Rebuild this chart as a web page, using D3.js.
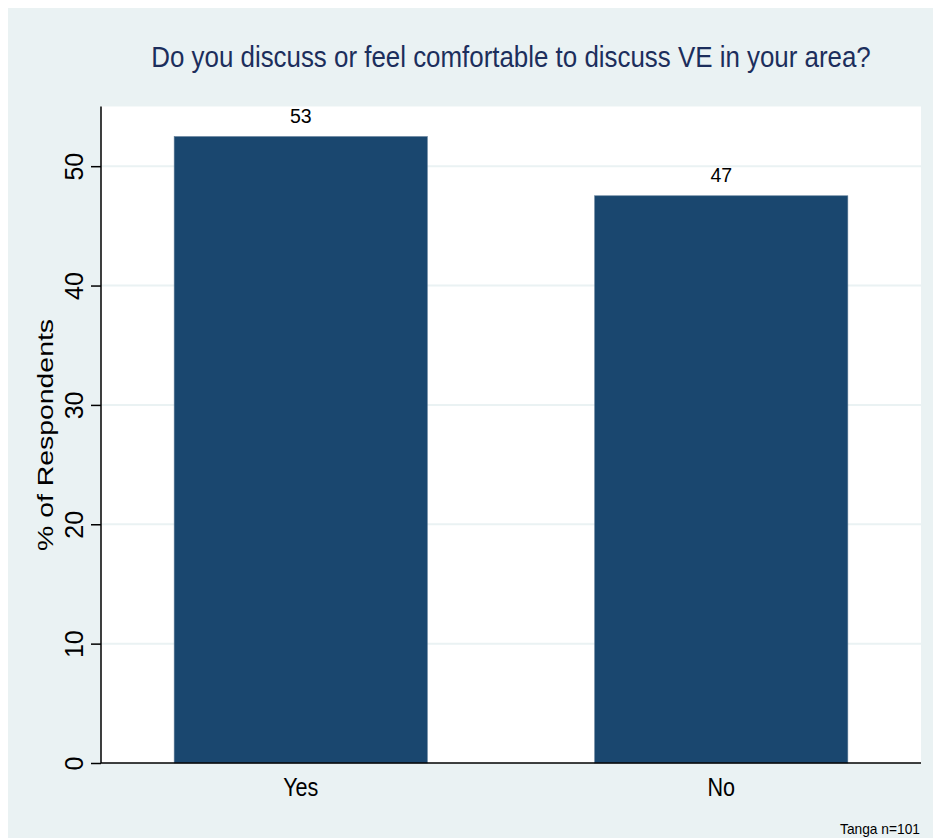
<!DOCTYPE html>
<html>
<head>
<meta charset="utf-8">
<script src="https://cdn.jsdelivr.net/npm/d3@7"></script>
<style>
  body { margin: 0; background: #fff; }
  text { font-family: "Liberation Sans", Arial, sans-serif; }
</style>
</head>
<body>
<svg id="chart"></svg>
<script>
// data
const categories = ['Yes', 'No'];
const percents = [52.48, 47.52];
const barLabels = ['53', '47'];
const yTicks = [0, 10, 20, 30, 40, 50];

const width = 933, height = 838;
const margin = {top: 106.5, right: 12, bottom: 75, left: 101};

// squeeze text horizontally to mimic the narrow Stata font
function squeeze(sel, factor) {
  sel.each(function() {
    const len = this.getComputedTextLength();
    d3.select(this)
        .attr('textLength', len * factor)
        .attr('lengthAdjust', 'spacingAndGlyphs');
  });
}

const svg = d3.select('#chart')
    .attr('width', width)
    .attr('height', height);

// outer background
svg.append('rect')
    .attr('x', 8).attr('y', 8)
    .attr('width', width - 8).attr('height', height - 8)
    .attr('fill', '#eaf2f3');

const plotW = width - margin.left - margin.right;
const plotH = height - margin.top - margin.bottom;

const chart = svg.append('g')
    .attr('transform', `translate(${margin.left},${margin.top})`);

chart.append('rect')
    .attr('width', plotW).attr('height', plotH)
    .attr('fill', '#fff');

const xScale = d3.scaleBand()
    .domain(categories)
    .range([0, plotW])
    .paddingInner(0.398)
    .paddingOuter(0.174);

const yScale = d3.scaleLinear()
    .domain([0, 55])
    .range([plotH, 0]);

// gridlines
chart.selectAll('.grid')
    .data(yTicks.filter(d => d > 0))
    .join('line')
    .attr('class', 'grid')
    .attr('x1', 0).attr('x2', plotW)
    .attr('y1', d => yScale(d)).attr('y2', d => yScale(d))
    .attr('stroke', '#eaf2f3')
    .attr('stroke-width', 2);

// bars
chart.selectAll('.bar')
    .data(percents)
    .join('rect')
    .attr('class', 'bar')
    .attr('x', (d, i) => xScale(categories[i]))
    .attr('y', d => yScale(d))
    .attr('width', xScale.bandwidth())
    .attr('height', d => plotH - yScale(d))
    .attr('fill', '#1a476f')
    .attr('stroke', '#5b7a96')
    .attr('stroke-width', 0.6);

// value labels
chart.selectAll('.val')
    .data(percents)
    .join('text')
    .attr('class', 'val')
    .attr('x', (d, i) => xScale(categories[i]) + xScale.bandwidth() / 2)
    .attr('y', d => yScale(d) - 14)
    .attr('text-anchor', 'middle')
    .attr('font-size', '19.5px')
    .attr('fill', '#000')
    .text((d, i) => barLabels[i]);

// y axis
const yAxis = d3.axisLeft(yScale)
    .tickValues(yTicks)
    .tickSize(10);
const yAxisG = chart.append('g').call(yAxis);
yAxisG.select('.domain').attr('stroke', '#000').attr('stroke-width', 1.5)
    .attr('d', `M0,${plotH}V0`);
yAxisG.selectAll('.tick line').attr('stroke', '#000').attr('stroke-width', 1.5);
yAxisG.selectAll('.tick text')
    .attr('font-family', null)
    .attr('font-size', '25px')
    .attr('fill', '#000')
    .attr('text-anchor', 'middle')
    .attr('x', null).attr('dy', null).attr('y', 0)
    .attr('transform', 'translate(-18.5,0) rotate(-90)');

// x axis
const xAxis = d3.axisBottom(xScale).tickSize(0).tickPadding(0);
const xAxisG = chart.append('g')
    .attr('transform', `translate(0,${plotH})`)
    .call(xAxis);
xAxisG.select('.domain').attr('stroke', '#000').attr('stroke-width', 1.5)
    .attr('d', `M0,0H${plotW}`);
xAxisG.selectAll('.tick text')
    .attr('font-family', null)
    .attr('font-size', '26px')
    .attr('fill', '#000')
    .attr('dy', null)
    .attr('y', 33)
    .call(squeeze, 0.83);

// y axis title
svg.append('text')
    .attr('transform', `translate(53,435) rotate(-90)`)
    .attr('text-anchor', 'middle')
    .attr('font-size', '22px')
    .attr('fill', '#000')
    .attr('textLength', 232)
    .attr('lengthAdjust', 'spacingAndGlyphs')
    .text('% of Respondents');

// title (horizontally scaled for the narrow look)
svg.append('text')
    .attr('transform', 'translate(511,67) scale(0.893,1)')
    .attr('text-anchor', 'middle')
    .attr('font-size', '29px')
    .attr('fill', '#1c2e5c')
    .text('Do you discuss or feel comfortable to discuss VE in your area?');

// note
svg.append('text')
    .attr('x', 920)
    .attr('y', 834)
    .attr('text-anchor', 'end')
    .attr('font-size', '15px')
    .attr('fill', '#000')
    .attr('textLength', 80)
    .attr('lengthAdjust', 'spacingAndGlyphs')
    .text('Tanga n=101');
</script>
</body>
</html>
